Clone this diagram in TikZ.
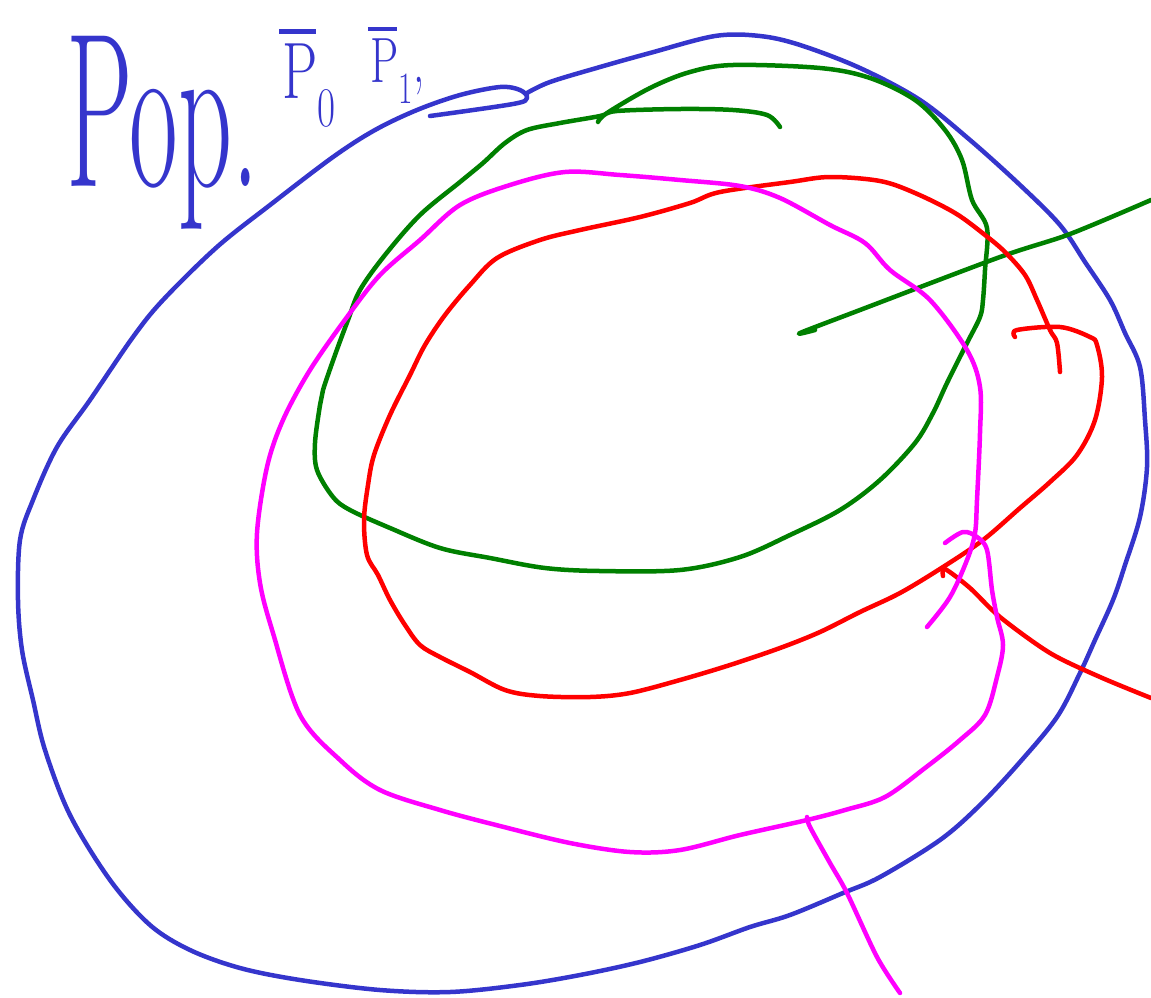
\documentclass[tikz,border=0pt]{standalone}
\newcommand{\barP}{\makebox[0pt][l]{\hspace{-0.05em}\raisebox{0.8em}{\rule{0.65em}{0.06em}}}P}
\begin{document}
\begin{tikzpicture}[x=1pt,y=-1pt,
  ink/.style={line width=4.5pt,line cap=round,line join=round},
  blueink/.style={ink,draw={rgb,255:red,53;green,53;blue,204}},
  greenink/.style={ink,draw={rgb,255:red,0;green,128;blue,0}},
  redink/.style={ink,draw={rgb,255:red,255;green,0;blue,0}},
  magink/.style={ink,draw={rgb,255:red,255;green,0;blue,255}},
  handtext/.style={text={rgb,255:red,53;green,53;blue,204},inner sep=0pt}]
\useasboundingbox (0,0) rectangle (1151,997);
% outer blue loop
\draw[blueink] plot[smooth,tension=0.55] coordinates {
(527,93) (550,82) (600,67) (650,53) (715,36) (760,36) (800,45) (860,68) (920,100)
(970,140) (1020,185) (1060,225) (1085,262) (1110,300) (1125,333) (1140,367)
(1145,420) (1147,467) (1140,517) (1125,565) (1113,600) (1095,640) (1080,673)
(1057,717) (1020,762) (980,805) (940,840) (880,877) (843,893) (790,915) (750,927)
(700,945) (640,962) (580,975) (520,985) (450,992) (380,990) (300,980) (240,968)
(190,950) (150,925) (110,880) (70,815) (45,750) (33,700) (22,650) (18,600)
(20,540) (33,500) (57,447) (90,400) (133,337) (163,300) (217,247)
(270,205) (333,157) (375,130) (417,110) (460,95) (500,87) (520,90) (527,98)
(513,104) (430,116)};
% green loop
\draw[greenink] plot[smooth,tension=0.55] coordinates {
(598,122) (607,113) (650,88) (690,72) (733,65) (820,68) (870,78) (915,100)
(945,130) (962,160) (972,200) (987,228) (985,270) (983,300) (980,317) (967,343)
(947,383) (933,413) (915,443) (880,480) (840,510) (790,535) (740,557) (680,570)
(600,571) (545,568) (490,558) (440,548) (390,528) (350,510) (333,497) (317,470)
(315,443) (320,405) (323,390) (335,355) (348,320) (360,290) (385,255) (420,215)
(460,182) (483,163) (505,143) (527,130) (560,123) (600,116) (617,111) (680,109)
(733,110) (767,115) (780,127)};
% green straight line
\draw[greenink] plot[smooth,tension=0.5] coordinates {
(815,330) (800,333) (860,310) (1000,257) (1070,234) (1151,200)};
% red loop
\draw[redink] plot[smooth,tension=0.55] coordinates {
(1015,337) (1017,330) (1060,327) (1090,337) (1097,345) (1102,377) (1095,420)
(1077,455) (1050,482) (1020,508) (983,540) (943,567) (900,593) (860,612)
(820,632) (780,648) (730,665) (680,680) (630,693) (590,697) (540,696) (505,690)
(470,672) (440,657) (420,645) (405,625) (390,600) (378,575) (367,555) (364,520)
(368,485) (374,455) (390,415) (410,375) (425,345) (445,315) (470,285) (497,258)
(540,240) (580,230) (640,217) (690,203) (720,192) (790,182) (830,177) (880,181)
(915,193) (955,213) (985,235) (1005,252) (1025,275) (1037,300) (1050,330)
(1057,343) (1060,372)};
% red tail
\draw[redink] plot[smooth,tension=0.5] coordinates {
(943,576) (945,569) (970,588) (1000,617) (1050,653) (1100,677) (1151,698)};
% magenta loop
\draw[magink] plot[smooth,tension=0.55] coordinates {
(945,543) (963,532) (977,537) (987,550) (992,590) (997,617) (1003,645) (997,677)
(985,715) (960,740) (925,768) (885,797) (845,810) (807,820) (740,835) (680,850)
(630,852) (570,843) (500,826) (440,810) (380,790) (340,760) (300,715) (273,633)
(260,583) (257,533) (267,467) (283,420) (310,370) (347,317) (380,275) (420,240)
(460,205) (510,185) (565,172) (620,175) (680,180) (740,186) (780,198) (830,225)
(865,243) (890,270) (930,300) (967,350) (980,387) (980,433) (977,500) (975,533)
(967,560) (950,597) (927,627)};
% magenta tail
\draw[magink] plot[smooth,tension=0.5] coordinates {
(807,817) (810,827) (830,863) (847,893) (877,957) (900,993)};
% handwritten text
\node[handtext,anchor=south west] (pop) at (66,230)
  {\scalebox{0.48}[1]{\fontsize{220}{220}\selectfont Pop.}};
\node[handtext,anchor=base west] (p0) at (282,98)
  {\scalebox{0.7}[1]{\fontsize{80}{80}\selectfont \barP\textsubscript{0}}};
\node[handtext,anchor=base west] (p1) at (370,82)
  {\scalebox{0.7}[1]{\fontsize{64}{64}\selectfont \barP\textsubscript{1},}};
\end{tikzpicture}
\end{document}
